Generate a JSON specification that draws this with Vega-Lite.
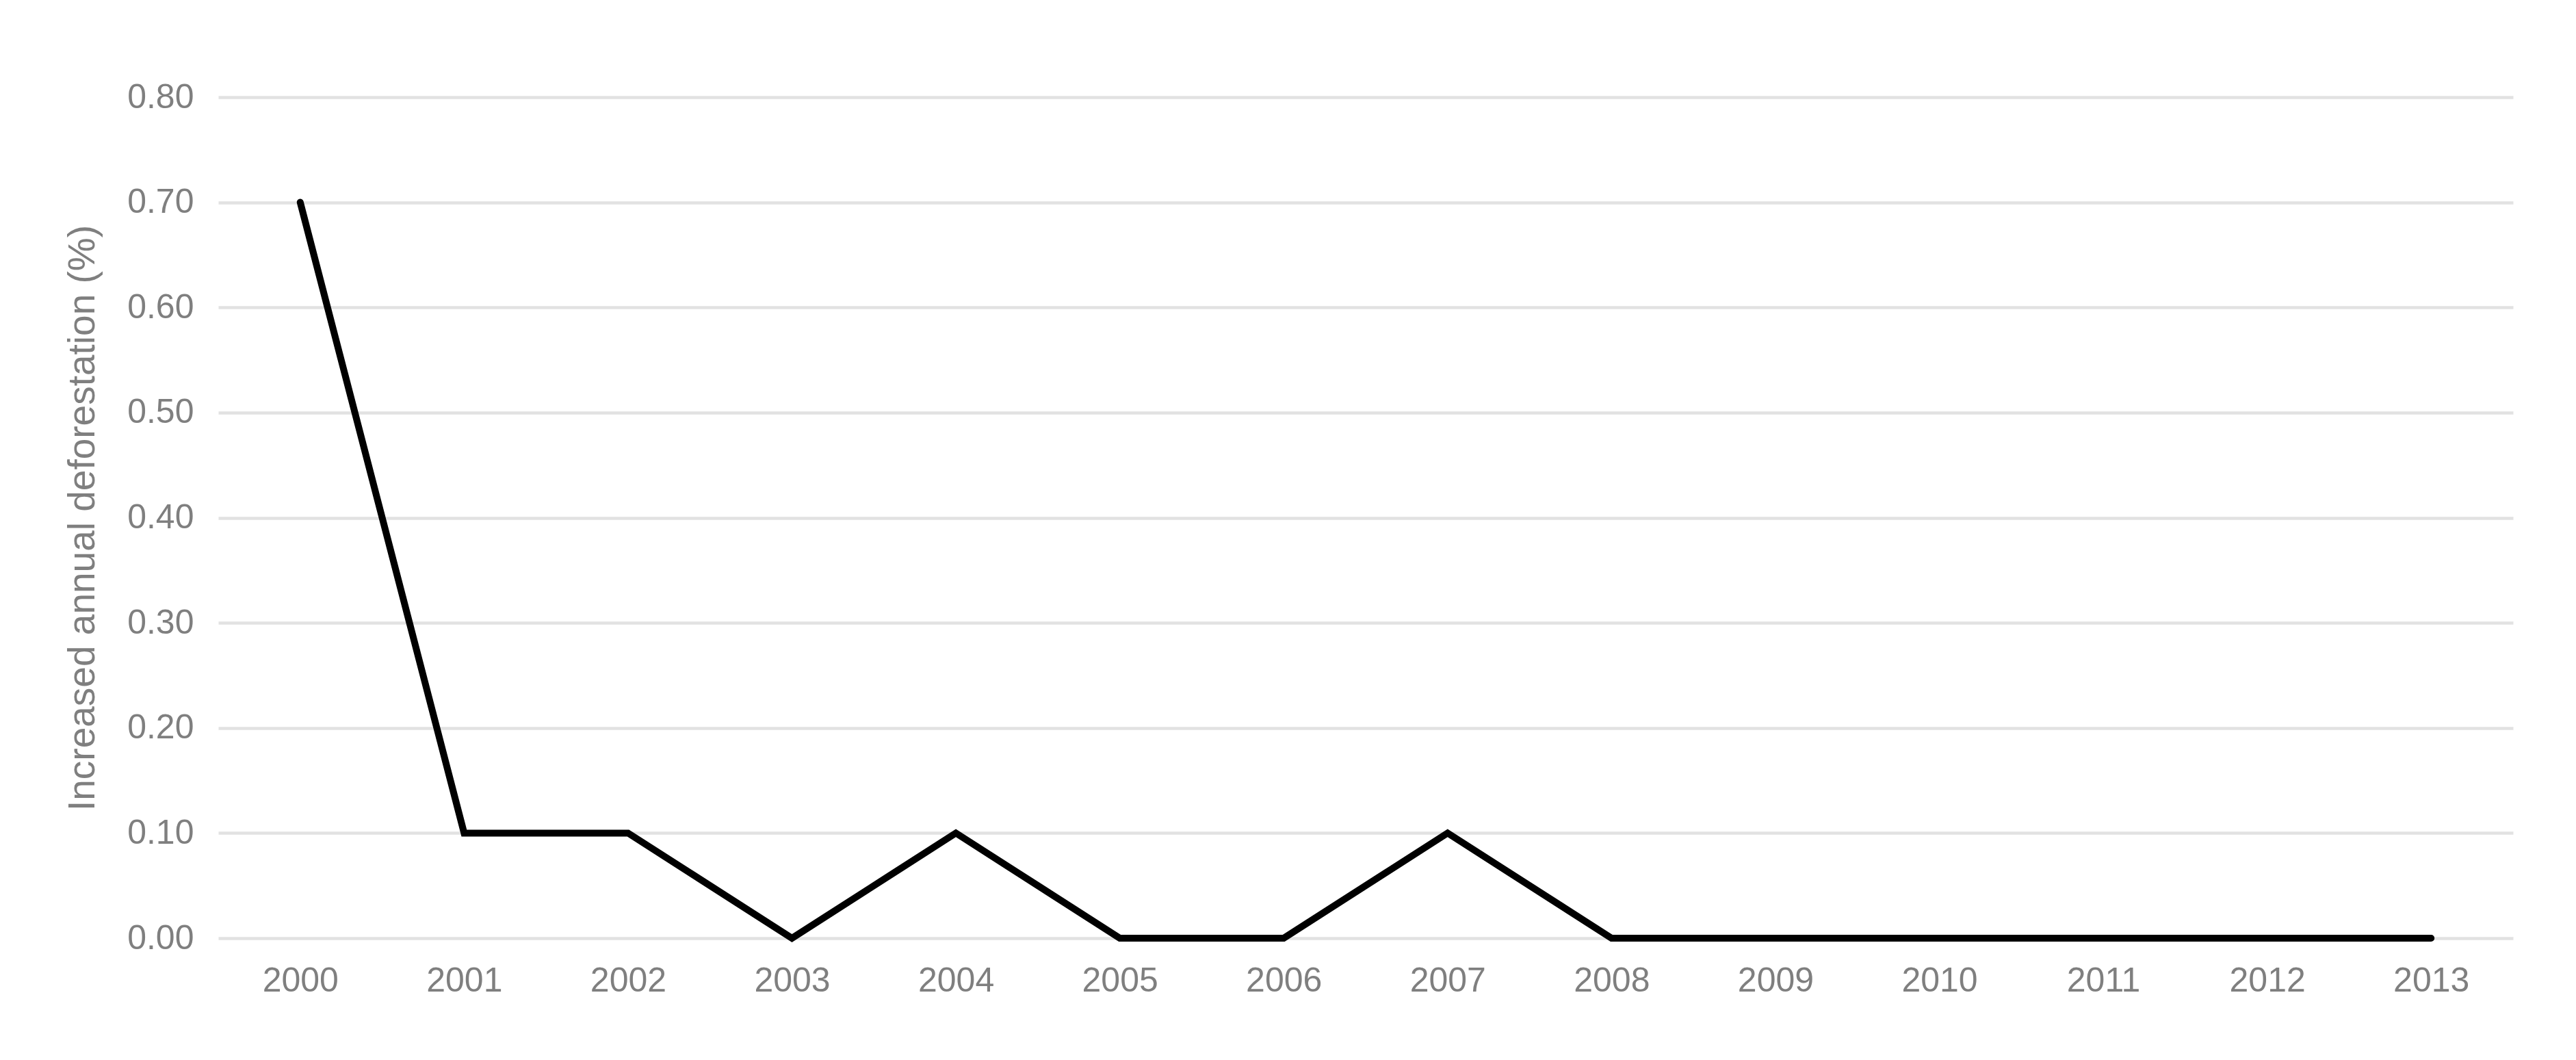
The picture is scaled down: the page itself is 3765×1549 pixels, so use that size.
{
  "$schema": "https://vega.github.io/schema/vega-lite/v6.json",
  "autosize": "none",
  "width": 3354,
  "height": 1229,
  "padding": {"left": 319, "top": 142, "right": 92, "bottom": 178},
  "background": "white",
  "config": {
    "view": {"stroke": null},
    "font": "Liberation Sans"
  },
  "data": {
    "values": [
      {"year": "2000", "value": 0.70},
      {"year": "2001", "value": 0.10},
      {"year": "2002", "value": 0.10},
      {"year": "2003", "value": 0.00},
      {"year": "2004", "value": 0.10},
      {"year": "2005", "value": 0.00},
      {"year": "2006", "value": 0.00},
      {"year": "2007", "value": 0.10},
      {"year": "2008", "value": 0.00},
      {"year": "2009", "value": 0.00},
      {"year": "2010", "value": 0.00},
      {"year": "2011", "value": 0.00},
      {"year": "2012", "value": 0.00},
      {"year": "2013", "value": 0.00}
    ]
  },
  "mark": {"type": "line", "color": "black", "strokeWidth": 10, "strokeCap": "round", "strokeJoin": "miter"},
  "encoding": {
    "x": {
      "field": "year",
      "type": "ordinal",
      "scale": {"type": "point", "padding": 0.5},
      "axis": {
        "title": null,
        "labelAngle": 0,
        "labelFont": "Liberation Sans",
        "labelFontSize": 50,
        "labelColor": "#7f7f7f",
        "labelPadding": 37,
        "ticks": false,
        "domain": false,
        "grid": false
      }
    },
    "y": {
      "field": "value",
      "type": "quantitative",
      "scale": {"domain": [0, 0.8], "nice": false, "zero": true},
      "axis": {
        "title": "Increased annual deforestation (%)",
        "titleFont": "Liberation Sans",
        "titleFontSize": 55,
        "titleFontWeight": "normal",
        "titleColor": "#7f7f7f",
        "titlePadding": 36,
        "values": [0, 0.1, 0.2, 0.3, 0.4, 0.5, 0.6, 0.7, 0.8],
        "format": ".2f",
        "labelFont": "Liberation Sans",
        "labelFontSize": 50,
        "labelColor": "#7f7f7f",
        "labelPadding": 36,
        "ticks": false,
        "domain": false,
        "grid": true,
        "gridColor": "#e2e2e2",
        "gridWidth": 4.5
      }
    }
  }
}
